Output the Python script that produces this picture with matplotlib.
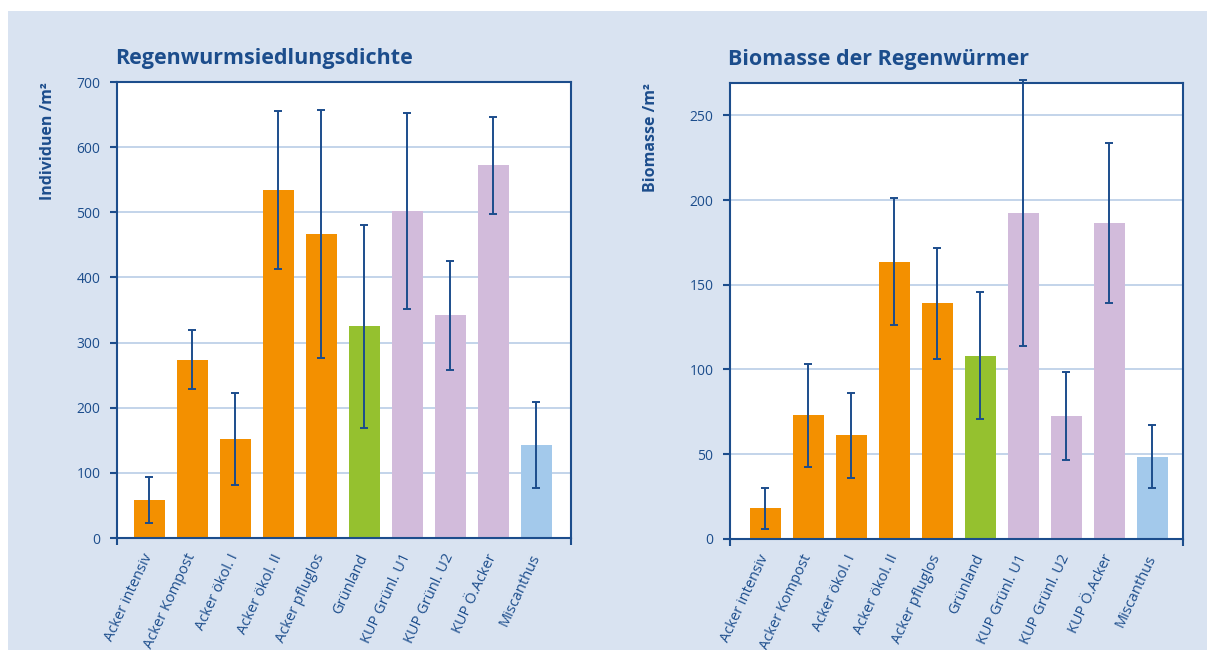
#!/bin/env python3
"""
Regenwurm-Kennwerte je Nutzungsvariante: Siedlungsdichte und Biomasse
als Balkendiagramme mit Fehlerbalken nebeneinander.
"""

import matplotlib
matplotlib.use("Agg")
import matplotlib.pyplot as plt
from matplotlib.patches import Rectangle

# --- Daten -----------------------------------------------------------------
varianten = ["Acker intensiv", "Acker Kompost", "Acker ökol. I", "Acker ökol. II",
             "Acker pfluglos", "Grünland", "KUP Grünl. U1", "KUP Grünl. U2",
             "KUP Ö.Acker", "Miscanthus"]

# Individuen pro m² (Mittelwert, Standardabweichung)
dichte = [58, 274, 152, 534, 467, 325, 502, 342, 572, 143]
dichte_sd = [35, 45, 71, 121, 190, 156, 150, 84, 75, 66]

# Biomasse pro m² (Mittelwert, Standardabweichung)
biomasse = [18, 73, 61, 163.5, 139, 108, 192.5, 72.5, 186.5, 48.5]
biomasse_sd = [12, 30.5, 25, 37.5, 33, 37.5, 78.5, 26, 47, 18.5]

# --- Stil ------------------------------------------------------------------
ORANGE = "#f39000"
GRUEN = "#95c12f"
LILA = "#d2bbdb"
HELLBLAU = "#a3c9eb"
farben = [ORANGE] * 5 + [GRUEN] + [LILA] * 3 + [HELLBLAU]

DUNKELBLAU = "#1c4d8c"
GITTER = "#b9cde6"
HINTERGRUND = "#d9e3f1"

plt.rcParams["font.family"] = ["Open Sans", "DejaVu Sans"]


def plot_balken(ax, werte, fehler, titel, ylabel, ymax, yticks, xlim, label_x):
    """Ein Balkendiagramm mit symmetrischen Fehlerbalken zeichnen."""
    x = range(len(varianten))
    ax.set_facecolor("white")
    ax.set_axisbelow(True)
    ax.grid(axis="y", color=GITTER, linewidth=1.2)
    ax.bar(x, werte, width=0.72, color=farben, zorder=2)
    # Fehlerbalken dürfen über den oberen Rahmen hinausragen
    eb = ax.errorbar(x, werte, yerr=fehler, fmt="none", ecolor=DUNKELBLAU,
                     elinewidth=1.4, capsize=3, capthick=1.4, zorder=3)
    for artist in eb.lines[1] + eb.lines[2]:
        artist.set_clip_on(False)

    ax.set_ylim(0, ymax)
    ax.set_xlim(*xlim)
    ax.set_yticks(yticks)
    ax.tick_params(axis="y", colors=DUNKELBLAU, labelsize=10, length=5,
                   width=1.5, pad=7)

    # Kategorien ohne Striche, nur die Achsenenden bekommen einen Strich
    ax.set_xticks(list(x))
    ax.set_xticklabels(varianten, rotation=65, ha="right", va="center",
                       rotation_mode="anchor", color=DUNKELBLAU, fontsize=10.5)
    ax.tick_params(axis="x", which="major", length=0, pad=12)
    ax.set_xticks(list(xlim), minor=True)
    ax.tick_params(axis="x", which="minor", length=5, width=1.5,
                   color=DUNKELBLAU)

    for spine in ax.spines.values():
        spine.set_color(DUNKELBLAU)
        spine.set_linewidth(1.5)

    ax.set_title(titel, loc="left", fontsize=15.5, fontweight="bold",
                 color=DUNKELBLAU, pad=13, x=-0.005)
    ax.set_ylabel(ylabel, loc="top", fontsize=11.5, fontweight="bold",
                  color=DUNKELBLAU)
    ax.yaxis.set_label_coords(label_x, 1.0)


fig = plt.figure(figsize=(12.07, 6.5), dpi=100, facecolor="white")
# hellblaues Feld hinter beiden Diagrammen, oben und links ein weißer Rand
fig.patches.append(Rectangle((8 / 1207, 0), 1, 639 / 650, transform=fig.transFigure,
                             facecolor=HINTERGRUND, edgecolor="none", zorder=-10))

ax1 = fig.add_axes([0.0969, 0.1723, 0.3761, 0.7015])
plot_balken(ax1, dichte, dichte_sd, "Regenwurmsiedlungsdichte", "Individuen /m²",
            700, range(0, 701, 100), (-0.75, 9.81), -0.135)

ax2 = fig.add_axes([0.6048, 0.1712, 0.3753, 0.7006])
plot_balken(ax2, biomasse, biomasse_sd, "Biomasse der Regenwürmer", "Biomasse /m²",
            269, range(0, 251, 50), (-0.82, 9.71), -0.156)

fig.savefig("out.png", dpi=100)
